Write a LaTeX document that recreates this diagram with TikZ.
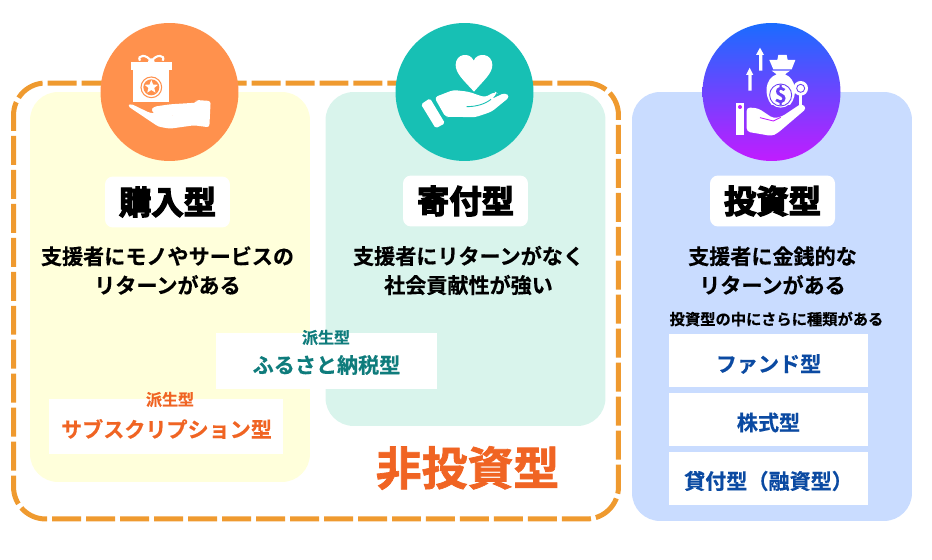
\documentclass[tikz,border=0pt]{standalone}
\usepackage{fontspec}
\setmainfont{Noto Sans CJK JP}[BoldFont=* Bold,BoldFeatures={FakeBold=0.4}]
\newfontfamily\heavyjp{Noto Sans CJK JP}[BoldFont=* Bold,BoldFeatures={FakeBold=4}]
\newfontfamily\bannerjp{Noto Sans CJK JP}[BoldFont=* Bold,BoldFeatures={FakeBold=1.5}]
\usetikzlibrary{positioning, shapes.geometric}
\definecolor{dashorange}{HTML}{EF9A2F}
\definecolor{buyyellow}{HTML}{FFFFDB}
\definecolor{donatemint}{HTML}{D9F4EC}
\definecolor{investblue}{HTML}{C9DCFF}
\definecolor{buycircle}{HTML}{FF914D}
\definecolor{donatecircle}{HTML}{17C0B4}
\definecolor{investtop}{HTML}{1A6CFF}
\definecolor{investbottom}{HTML}{C11CFF}
\definecolor{investmid}{HTML}{6A40F5}
\definecolor{accentorange}{HTML}{F06423}
\definecolor{accentteal}{HTML}{0F7C7C}
\definecolor{accentblue}{HTML}{0B4AA2}
\tikzset{panel/.style={rounded corners=0.56cm,minimum width=5.6cm,inner sep=0pt},
         badge/.style={circle,minimum size=2.76cm,inner sep=0pt},
         titlebox/.style={fill=white,rounded corners=0.16cm,minimum width=2.5cm,minimum height=1.02cm,font=\heavyjp\bfseries\fontsize{18.4}{20}\selectfont},
         bodytext/.style={font=\bfseries\fontsize{12}{16.5}\selectfont,align=center,inner sep=0pt},
         whitebox/.style={fill=white,inner sep=0pt},
         boxtext/.style={font=\bfseries\fontsize{12}{14}\selectfont,inner sep=0pt},
         smalltext/.style={font=\bfseries\fontsize{9.1}{10}\selectfont,inner sep=0pt},
         zoomed/.style={shift={(#1)},x=0.00667cm,y=-0.00667cm},
        }

\begin{document}
\begin{tikzpicture}[x=0.02cm,y=-0.02cm]
        \useasboundingbox(0,0)rectangle(932,560);

        \node[draw=dashorange,line width=0.1cm,dash pattern=on 0.58cm off 0.1cm,rounded corners=0.64cm,minimum width=12.1cm,minimum height=8.72cm,inner sep=0pt](nonbox)at(316,301){};

        \node[panel,fill=buyyellow,minimum height=7.8cm](buypanel)at(170,287){};
        \node[panel,fill=donatemint,minimum height=6.68cm](donatepanel)at(465.5,259){};
        \node[panel,fill=investblue,minimum height=8.58cm](investpanel)at(772,306.5){};

        \node[badge,fill=buycircle](buybadge)at(169.5,92){};
        \node[badge,fill=donatecircle](donatebadge)at(464.5,92){};
        \node[badge,top color=investtop,bottom color=investbottom](investbadge)at(771.5,92){};

        \begin{scope}[zoomed={90,10}]
            \fill[white](123,155)rectangle(247,180);
            \fill[white](130,180)rectangle(238,277);
            \draw[white,line width=1.2pt](184,155)..controls(170,130)and(140,135)..(150,152);
            \draw[white,line width=1.2pt](184,155)..controls(198,130)and(228,135)..(218,152);
            \draw[white,line width=1.2pt](176,158)--(162,174);
            \draw[white,line width=1.2pt](192,158)--(206,174);
            \fill[white](184,155)circle(10);
            \draw[buycircle,line width=0.6pt](184,232)circle(31);
            \fill[buycircle](184,232)circle(24);
            \node[star,star points=5,star point ratio=2.3,fill=white,minimum size=0.28cm,inner sep=0pt](giftstar)at(184,231){};
            \fill[white,rounded corners=1.5pt](113,288)--(122,281)--(180,309)--(250,313)--(248,322)--(195,313)--(183,300)--(192,290)--(240,283)--(320,278)--(318,270)--(362,273)--(358,352)--(312,346)--(240,356)--(205,350)--cycle;
        \end{scope}

        \begin{scope}[zoomed={385,10}]
            \fill[white](267,245)..controls(235,210)and(212,190)..(212,165)..controls(212,130)and(255,125)..(266,152)..controls(277,125)and(322,130)..(322,165)..controls(322,190)and(297,210)..(267,245)--cycle;
            \fill[white,rounded corners=1pt](108,283)--(135,265)--(180,340)--(152,355)--cycle;
            \fill[white,rounded corners=2pt](148,262)--(205,240)--(250,245)--(300,262)--(330,245)--(338,250)--(318,268)--(360,248)--(375,260)--(320,305)--(270,322)--(195,320)--(182,322)--cycle;
            \draw[donatecircle,line width=0.5pt](245,290)..controls(275,290)and(300,282)..(318,268);
        \end{scope}

        \begin{scope}[zoomed={690,10}]
            \fill[white](210,113)--(222,135)--(217,135)--(217,182)--(207,182)--(207,135)--(198,135)--cycle;
            \fill[white](179,173)--(190,195)--(185,195)--(185,242)--(175,242)--(175,195)--(168,195)--cycle;
            \fill[white](238,150)--(262,150)--(265,135)--(290,135)--(293,150)--(316,150)--(305,178)--(250,178)--cycle;
            \fill[white](245,182)--(300,182)--(285,193)..controls(318,205)and(325,255)..(300,285)--(245,285)..controls(220,255)and(225,205)..(260,193)--cycle;
            \fill[white](272,255)circle(38);
            \draw[investmid,line width=0.5pt](272,255)circle(33);
            \node[text=investmid,font=\bfseries\fontsize{12}{12}\selectfont,inner sep=0pt](coinsign)at(272,255){\$};
            \fill[white](332,235)circle(22);
            \draw[investmid,line width=0.5pt](332,235)circle(12);
            \fill[white](327,255)rectangle(337,285);
            \fill[white](138,280)rectangle(163,375);
            \fill[investbottom](150,291)circle(6);
            \fill[white,rounded corners=2pt](170,292)--(205,295)--(250,325)--(275,320)--(335,280)--(350,295)--(262,370)--(245,378)--(170,365)--cycle;
            \draw[investbottom,line width=0.5pt](210,323)--(250,333)--(272,322);
        \end{scope}

        \node[titlebox](buytitle)at(167.5,202){購入型};
        \node[titlebox](donatetitle)at(465.5,201){寄付型};
        \node[titlebox](investtitle)at(772.5,201){投資型};

        \node[bodytext](buytext)at(167.5,270.5){支援者にモノやサービスの\\リターンがある};
        \node[bodytext](donatetext)at(468.5,270.5){支援者にリターンがなく\\社会貢献性が強い};
        \node[bodytext](investtext)at(772.5,270.5){支援者に金銭的な\\リターンがある};
        \node[smalltext,font=\bfseries\fontsize{8.7}{10}\selectfont](investnote)at(776.5,319){投資型の中にさらに種類がある};

        \node[whitebox,minimum width=3.98cm,minimum height=1.06cm](fundbox)at(768.5,360.5){};
        \node[whitebox,minimum width=3.98cm,minimum height=1.06cm](stockbox)at(768.5,419.5){};
        \node[whitebox,minimum width=3.98cm,minimum height=1.06cm](loanbox)at(768.5,478.5){};
        \node[boxtext,text=accentblue](fundtext)at(768.5,364){ファンド型};
        \node[boxtext,text=accentblue](stocktext)at(768.5,422.5){株式型};
        \node[boxtext,text=accentblue](loantext)at(768.5,481){貸付型（融資型）};

        \node[whitebox,minimum width=4.42cm,minimum height=1.12cm](furusatobox)at(326.5,361){};
        \node[boxtext,text=accentteal](furusatotext)at(326.5,365){ふるさと納税型};
        \node[smalltext,text=accentteal](furusatotag)at(326,337.5){派生型};

        \node[whitebox,minimum width=4.68cm,minimum height=1.1cm](subscbox)at(166,426.5){};
        \node[boxtext,text=accentorange](subsctext)at(166.5,429){サブスクリプション型};
        \node[smalltext,text=accentorange](subsctag)at(170,399.5){派生型};

        \node[text=accentorange,font=\bannerjp\bfseries\fontsize{26.1}{28}\selectfont,inner sep=0pt](nontext)at(467.5,468){非投資型};
    \end{tikzpicture}
\end{document}
